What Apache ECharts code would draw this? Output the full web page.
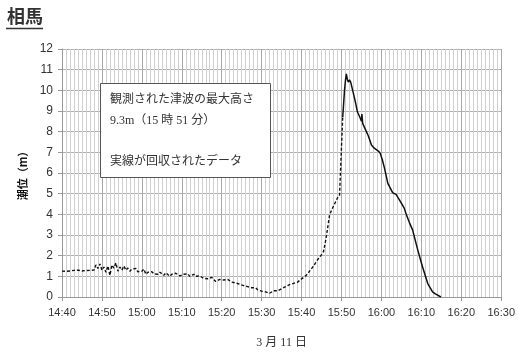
<!DOCTYPE html>
<html>
<head>
<meta charset="utf-8">
<script src="https://cdn.jsdelivr.net/npm/echarts@6/dist/echarts.min.js"></script>
<style>
  html, body { margin: 0; padding: 0; background: #fff; }
  #chart { width: 518px; height: 358px; }
</style>
</head>
<body>
<div id="chart"></div>
<script>
// Tide level at Soma on 11 March; time is given in minutes after 14:40.
const startHour = 14, startMinute = 40;

// Estimated record (dashed line)
const dashedMinutes = [
  0, 0.5, 1, 1.5, 2, 2.5, 3, 3.5, 4, 4.5, 5, 5.5, 6, 6.5, 7, 7.5, 8, 8.5, 9, 9.5,
  10, 10.5, 11, 11.5, 12, 12.5, 13, 13.5, 14, 14.5, 15, 15.5, 16, 16.5, 17, 17.5, 18, 18.5, 19, 19.5,
  20, 20.5, 21, 21.5, 22, 22.5, 23, 23.5, 24, 24.5, 25, 25.5, 26, 26.5, 27, 27.5, 28, 28.5, 29, 29.5,
  30, 30.5, 31, 31.5, 32, 32.5, 33, 33.5, 34, 34.5, 35, 35.5, 36, 36.5, 37, 37.5, 38, 38.5, 39, 39.5,
  40, 40.5, 41, 41.5, 42, 42.5, 43, 43.5, 44, 44.5, 45, 45.5, 46, 46.5, 47, 47.5, 48, 48.5, 49, 49.5,
  50, 50.5, 51, 51.5, 52, 52.5, 53, 53.5, 54, 54.5, 55, 56, 57, 58, 59, 59.5,
  60, 60.5, 61, 61.5, 62, 62.5, 63, 63.5, 64, 64.5, 65, 65.5, 66, 66.5, 67, 67.5, 68, 68.5, 69, 69.5,
  70, 70.3
];
const dashedLevels = [
  1.25, 1.27, 1.24, 1.28, 1.26, 1.25, 1.29, 1.27, 1.30, 1.28, 1.26, 1.30, 1.28, 1.32, 1.29, 1.35, 1.30, 1.55, 1.38, 1.60,
  1.30, 1.45, 1.20, 1.50, 1.05, 1.55, 1.40, 1.65, 1.25, 1.45, 1.30, 1.50, 1.30, 1.40, 1.25, 1.35, 1.30, 1.38, 1.22, 1.30,
  1.25, 1.35, 1.10, 1.20, 1.15, 1.22, 1.12, 1.18, 1.10, 1.20, 1.15, 1.05, 1.17, 1.10, 1.00, 1.10, 1.05, 1.15, 1.10, 1.02,
  1.08, 1.10, 1.05, 1.12, 1.00, 1.05, 1.10, 1.00, 0.95, 1.02, 0.98, 0.90, 0.95, 0.88, 0.90, 0.95, 0.85, 0.75, 0.80, 0.85,
  0.90, 0.82, 0.80, 0.85, 0.78, 0.72, 0.75, 0.68, 0.70, 0.62, 0.58, 0.55, 0.60, 0.50, 0.48, 0.45, 0.40, 0.45, 0.35, 0.30,
  0.28, 0.35, 0.25, 0.20, 0.18, 0.22, 0.30, 0.25, 0.30, 0.38, 0.40, 0.50, 0.60, 0.66, 0.72, 0.80,
  0.88, 0.95, 1.02, 1.12, 1.25, 1.37, 1.50, 1.65, 1.80, 1.92, 2.05, 2.20, 2.70, 3.30, 3.95, 4.20, 4.40, 4.60, 4.80, 4.90,
  4.95, 8.70
];

// Recovered record (solid line)
const solidMinutes = [
  70.3, 70.75, 71.0, 71.2, 71.5, 71.7, 72.0, 72.3, 72.8, 73.4, 74.0, 74.6, 75.0, 75.1, 75.3, 76.0, 76.7, 77.5, 78.2, 79.3,
  79.7, 80.2, 80.75, 81.6, 82.8, 83.7, 84.5, 85.7, 86.2, 87.0, 87.8, 89.1, 90.3, 91.6, 92.8, 93.5, 94.9
];
const solidLevels = [
  8.70, 10.00, 10.50, 10.80, 10.50, 10.40, 10.50, 10.40, 10.00, 9.50, 8.95, 8.70, 8.50, 8.85, 8.40, 8.10, 7.80, 7.35, 7.20, 7.05,
  6.95, 6.65, 6.25, 5.50, 5.05, 4.95, 4.70, 4.30, 4.00, 3.60, 3.25, 2.27, 1.45, 0.65, 0.25, 0.15, 0.00
];

const noteLines = ['観測された津波の最大高さ', '9.3m（15 時 51 分）', '', '実線が回収されたデータ'];

function pairs(xs, ys) { return xs.map((x, i) => [x, ys[i]]); }
function clock(m) {
  const total = startHour * 60 + startMinute + m;
  const h = Math.floor(total / 60), mm = total % 60;
  return h + ':' + String(mm).padStart(2, '0');
}

const chart = echarts.init(document.getElementById('chart'), null, { renderer: 'canvas' });
const labelFont = 'Liberation Sans, Arial, sans-serif';
const serifFont = '"Liberation Serif", "DejaVu Serif", "Noto Sans CJK JP", serif';

chart.setOption({
  backgroundColor: '#fff',
  animation: false,
  grid: { left: 62, right: 16, top: 49, bottom: 61 },
  xAxis: {
    type: 'value', min: 0, max: 110, interval: 10,
    name: '3 月 11 日', nameLocation: 'middle', nameGap: 40,
    nameTextStyle: { fontFamily: serifFont, fontSize: 12, color: '#333' },
    axisLine: { show: true, lineStyle: { color: '#999', width: 1 } },
    axisTick: { show: true, length: 4, lineStyle: { color: '#999' } },
    axisLabel: { formatter: clock, fontFamily: labelFont, fontSize: 11, color: '#333', margin: 10 },
    splitLine: { show: true, lineStyle: { color: '#a8a8a8', width: 1 } },
    minorTick: { show: false, splitNumber: 10 },
    minorSplitLine: { show: true, lineStyle: { color: '#d0d0d0', width: 1 } }
  },
  yAxis: {
    type: 'value', min: 0, max: 12, interval: 1,
    name: '潮位（m）', nameLocation: 'middle', nameGap: 34, nameRotate: 90,
    nameTextStyle: { fontFamily: 'Noto Sans CJK JP, sans-serif', fontSize: 11, fontWeight: 'bold', color: '#111' },
    axisLine: { show: true, lineStyle: { color: '#999', width: 1 } },
    axisTick: { show: true, length: 4, lineStyle: { color: '#999' } },
    axisLabel: { fontFamily: labelFont, fontSize: 12, color: '#333', margin: 9 },
    splitLine: { show: true, lineStyle: { color: '#b0b0b0', width: 1 } }
  },
  series: [
    {
      type: 'line', data: pairs(dashedMinutes, dashedLevels), symbol: 'none',
      lineStyle: { color: '#111', width: 1.4, type: [3, 2] }, z: 3
    },
    {
      type: 'line', data: pairs(solidMinutes, solidLevels), symbol: 'none',
      lineStyle: { color: '#111', width: 1.5 }, z: 3
    }
  ],
  graphic: [
    {
      type: 'text', left: 7, top: 7,
      style: { text: '相馬', font: 'bold 18px "Noto Sans CJK JP", sans-serif', fill: '#333' }
    },
    {
      type: 'line', shape: { x1: 6, y1: 28.5, x2: 43, y2: 28.5 },
      style: { stroke: '#333', lineWidth: 1.5 }
    },
    {
      type: 'rect', shape: { x: 100.5, y: 83.5, width: 170, height: 94 },
      style: { fill: '#fff', stroke: '#555', lineWidth: 1 }, z: 10
    },
    {
      type: 'text', x: 110, y: 90, z: 11,
      style: {
        text: noteLines.join('\n'), font: '12px ' + serifFont,
        fill: '#333', lineHeight: 20.5
      }
    }
  ]
});
</script>
</body>
</html>
